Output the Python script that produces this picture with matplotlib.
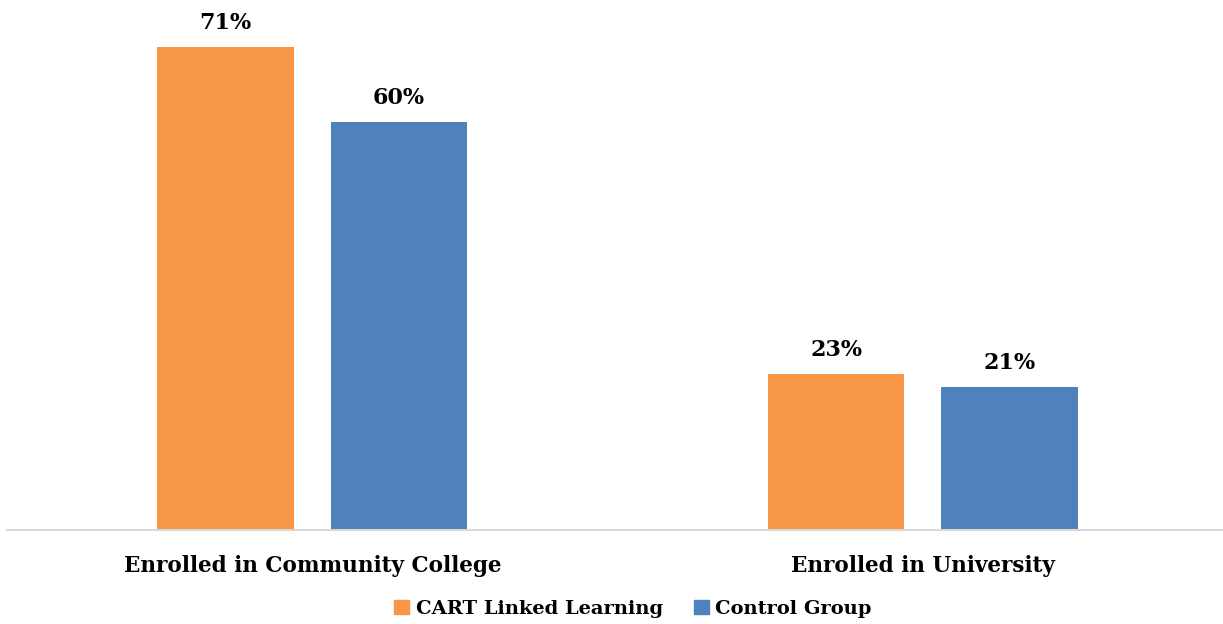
import numpy as np
import matplotlib.pyplot as plt
from matplotlib.patches import Patch

categories = ['Enrolled in Community College', 'Enrolled in University']
cart_vals = [71, 23]
control_vals = [60, 21]
series_names = ['CART Linked Learning', 'Control Group']

orange = '#F79646'
blue = '#4F81BD'
font = 'DejaVu Serif'

fig = plt.figure(figsize=(12.23, 6.24), dpi=100)
ax = fig.add_axes([7/1223, 94/624, 1221/1223, 530/624])

x = np.arange(len(categories))
w = 0.224
off = 0.142
b1 = ax.bar(x - off, cart_vals, w, color=orange)
b2 = ax.bar(x + off, control_vals, w, color=blue)

for bars, vals in ((b1, cart_vals), (b2, control_vals)):
    for b, v in zip(bars, vals):
        ax.text(b.get_x() + b.get_width()/2, v + 1.9, f'{v}%', ha='center', va='bottom',
                fontsize=16, fontweight='bold', family=font)

ax.set_xlim(-0.5, 1.5)
ax.set_ylim(0, 530/6.8)
ax.set_xticks(x)
ax.set_xticklabels(categories, fontsize=15.5, fontweight='bold', family=font)
ax.tick_params(axis='x', length=0, pad=18)
ax.set_yticks([])
for s in ['top', 'right', 'left']:
    ax.spines[s].set_visible(False)
ax.spines['bottom'].set_color('#D9D9D9')
ax.spines['bottom'].set_linewidth(1.5)

handles = [Patch(color=orange), Patch(color=blue)]
fig.legend(handles, series_names, loc='center', bbox_to_anchor=(633/1223, 1 - 609/624),
           ncol=2, frameon=False, handlelength=0.75, handleheight=0.75, handletextpad=0.35,
           columnspacing=1.6, prop={'family': font, 'weight': 'bold', 'size': 14})

fig.savefig('out.png', dpi=100)
